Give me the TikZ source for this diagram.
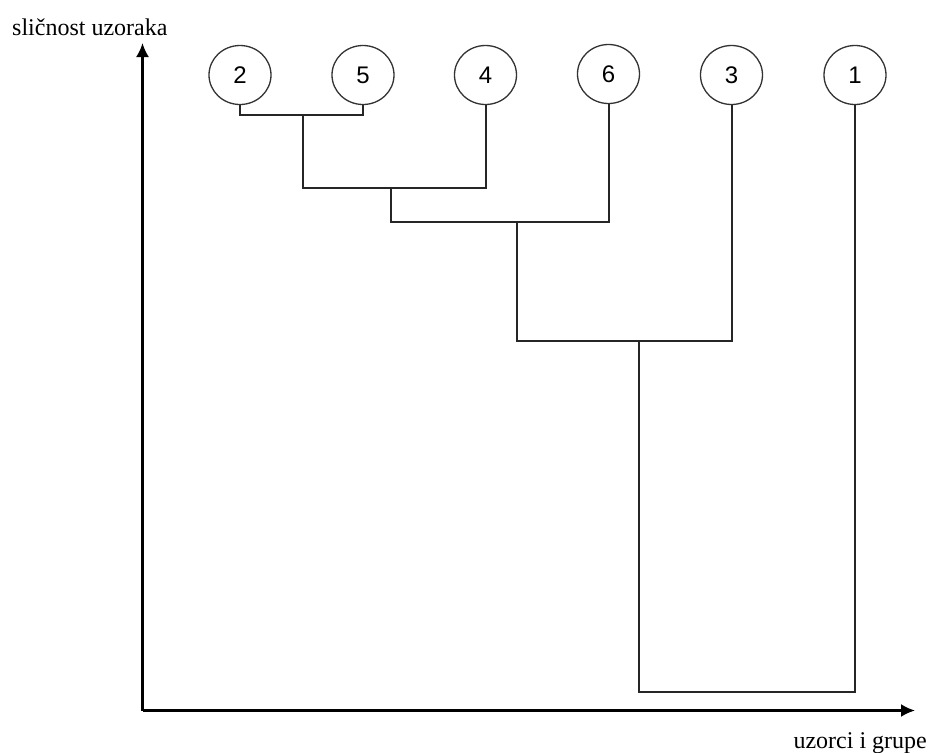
\documentclass[tikz,border=0pt]{standalone}
\usepackage{fontspec}
\setmainfont{Liberation Serif}
\newfontfamily\numfont{Liberation Sans}
\usetikzlibrary{arrows.meta,shapes.geometric}
\tikzset{
  sample/.style={ellipse,draw=black!80,line width=1.3pt,minimum width=62pt,minimum height=59pt,inner sep=0pt,font=\numfont\fontsize{24}{28}\selectfont},
  link/.style={draw=black!85,line width=2pt},
  axis/.style={draw=black,line width=2.3pt,-{Latex[length=14pt,width=13pt]}},
  axlabel/.style={font=\fontsize{24}{28}\selectfont,inner sep=0pt}
}
\begin{document}
\begin{tikzpicture}[x=1pt,y=-1pt]
\useasboundingbox (0,0) rectangle (930,753);
% axes
\coordinate (o) at (142.5,710.5);
\coordinate (ytop) at (142.5,43);
\coordinate (xend) at (915,710.5);
\draw[axis] (o) -- (ytop);
\draw[axis] (o) -- (xend);
\node[axlabel,anchor=base west] (ylab) at (12,35) {sličnost uzoraka};
\node[axlabel,anchor=base east] (xlab) at (927,748) {uzorci i grupe};
% samples
\node[sample] (c2) at (240,75) {2};
\node[sample] (c5) at (363,75) {5};
\node[sample] (c4) at (485.5,75) {4};
\node[sample] (c6) at (608.5,74) {6};
\node[sample] (c3) at (731.5,75) {3};
\node[sample] (c1) at (855,75) {1};
% joins
\coordinate (j25) at (302.5,115);
\coordinate (j254) at (391,187.5);
\coordinate (j2546) at (516.5,222);
\coordinate (j25463) at (638.5,341);
\coordinate (jall) at (747,691.5);
\draw[link] (c2.south) |- (j25) -| (c5.south);
\draw[link] (j25) |- (j254) -| (c4.south);
\draw[link] (j254) |- (j2546) -| (c6.south);
\draw[link] (j2546) |- (j25463) -| (c3.south);
\draw[link] (j25463) |- (jall) -| (c1.south);
\end{tikzpicture}
\end{document}
